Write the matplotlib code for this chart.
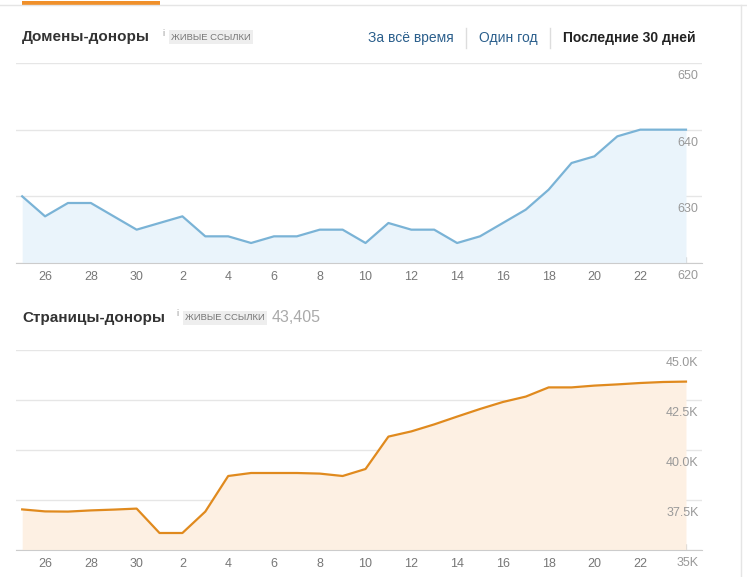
import matplotlib
matplotlib.use('Agg')
import matplotlib.pyplot as plt
from matplotlib.transforms import blended_transform_factory

plt.rcParams['font.family'] = 'Liberation Sans'

days = [25, 26, 27, 28, 29, 30] + list(range(1, 25))
domains = [630, 627, 629, 629, 627, 625, 626, 627, 624, 624, 623, 624, 624, 625, 625,
           623, 626, 625, 625, 623, 624, 626, 628, 631, 635, 636, 639, 640, 640, 640]
pages = [37.03, 36.93, 36.92, 36.98, 37.02, 37.07, 35.85, 35.85, 36.92, 38.7, 38.85, 38.85,
         38.85, 38.82, 38.7, 39.05, 40.67, 40.93, 41.28, 41.67, 42.05, 42.4, 42.67, 43.13,
         43.13, 43.22, 43.28, 43.35, 43.4, 43.42]
dom_ticks = [620, 630, 640, 650]
page_ticks = [35, 37.5, 40, 42.5, 45]
page_labels = ['35K', '37.5K', '40.0K', '42.5K', '45.0K']

W, H = 747, 577
fig = plt.figure(figsize=(W / 100, H / 100), dpi=100)
fig.patch.set_facecolor('white')

def px(x0, y0, x1, y1):
    return [x0 / W, 1 - y1 / H, (x1 - x0) / W, (y1 - y0) / H]

def draw(rect, values, yticks, ylabels, line, fill):
    ax = fig.add_axes(rect)
    idx = list(range(len(values)))
    ax.fill_between(idx, values, yticks[0], color=fill, lw=0)
    ax.plot(idx, values, color=line, lw=1.6)
    ax.set_xlim(-0.27, len(values) - 1 + 0.7)
    ax.set_ylim(yticks[0], yticks[-1])
    ax.set_yticks(yticks)
    ax.yaxis.grid(True, color='#e6e6e6', lw=1)
    ax.tick_params(axis='y', length=0, labelleft=False)
    xt = [i for i, d in enumerate(days) if d % 2 == 0] + [len(days) - 1]
    ax.set_xticks(xt)
    ax.set_xticklabels([str(days[i]) if i != len(days) - 1 else '' for i in xt])
    ax.tick_params(axis='x', direction='in', length=4, color='#cccccc',
                   labelsize=9, labelcolor='#777777', pad=6)
    for s in ['top', 'left', 'right']:
        ax.spines[s].set_visible(False)
    ax.spines['bottom'].set_color('#cccccc')
    tr = blended_transform_factory(ax.transAxes, ax.transData)
    span = yticks[-1] - yticks[0]
    for v, lab in zip(yticks, ylabels):
        ax.text(0.995, v - span * 0.035, lab, transform=tr, ha='right', va='top',
                fontsize=9, color='#999999', clip_on=False)
    ax.set_axisbelow(True)
    return ax

draw(px(16, 63, 702, 263), domains, dom_ticks, [str(t) for t in dom_ticks], '#7ab3d6', '#eaf4fb')
draw(px(16, 350, 702, 550), pages, page_ticks, page_labels, '#e08a1e', '#fdf0e3')

# decorations
fig.add_artist(plt.Line2D([0, 1], [1 - 5 / H] * 2, color='#e5e5e5', lw=1))
fig.add_artist(plt.Rectangle((22 / W, 1 - 5 / H), 138 / W, 4 / H, color='#f0902a', lw=0))
fig.add_artist(plt.Line2D([741 / W] * 2, [0, 1 - 5 / H], color='#e5e5e5', lw=1))

def header(y, title, badge_x, extra=None):
    fig.text(22 / W, 1 - y / H, title, fontsize=11, fontweight='bold', color='#333333', va='center')
    fig.text((badge_x - 9) / W, 1 - (y - 4) / H, 'i', fontsize=6.5, color='#999999', va='center')
    fig.text(badge_x / W, 1 - y / H, 'ЖИВЫЕ ССЫЛКИ', fontsize=6.8, color='#777777', va='center',
             bbox=dict(boxstyle='square,pad=0.25', fc='#eeeeee', ec='none'))
    if extra:
        fig.text(272 / W, 1 - y / H, extra, fontsize=11.5, color='#aaaaaa', va='center')

header(37, 'Домены-доноры', 171)
header(318, 'Страницы-доноры', 185, '43,405')

fig.text(368 / W, 1 - 38 / H, 'За всё время', fontsize=10, color='#2b5f8c', va='center')
fig.text(479 / W, 1 - 38 / H, 'Один год', fontsize=10, color='#2b5f8c', va='center')
fig.text(563 / W, 1 - 38 / H, 'Последние 30 дней', fontsize=10, fontweight='bold',
         color='#222222', va='center')
for x in [466, 550]:
    fig.add_artist(plt.Line2D([x / W] * 2, [1 - 28 / H, 1 - 48 / H], color='#dddddd', lw=1))

fig.savefig('out.png', dpi=100)
plt.close(fig)
